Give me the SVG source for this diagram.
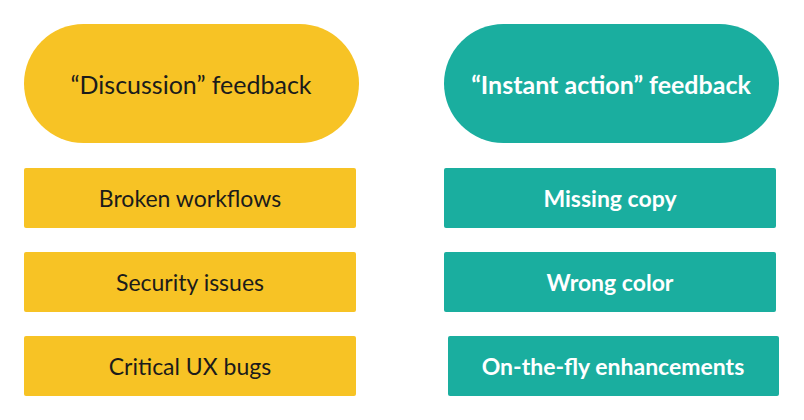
<svg xmlns="http://www.w3.org/2000/svg" width="804" height="420" viewBox="0 0 804 420">
<style>
.y{fill:#F7C325}.t{fill:#1AAE9F}
text{font-family:Lato,"Open Sans",sans-serif;text-anchor:middle;dominant-baseline:central}
.dk{fill:#1b1b1b}.wh{fill:#fff}
.p{font-size:25px}.b{font-size:23px}
.wh{font-weight:bold}
</style>
<rect width="804" height="420" fill="#fff"/>
<g id="discussion"><rect class="y" x="24" y="24" width="335" height="119" rx="59.5"/><text class="dk p" x="191" y="84">“Discussion” feedback</text></g>
<g id="instant"><rect class="t" x="444" y="24" width="335" height="119" rx="59.5"/><text class="wh p" x="611" y="84">“Instant action” feedback</text></g>
<g id="broken"><rect class="y" x="24" y="168" width="332" height="60" rx="2"/><text class="dk b" x="190" y="198">Broken workflows</text></g>
<g id="security"><rect class="y" x="24" y="252" width="332" height="60" rx="2"/><text class="dk b" x="190" y="282">Security issues</text></g>
<g id="critical"><rect class="y" x="24" y="336" width="332" height="60" rx="2"/><text class="dk b" x="190" y="366">Critical UX bugs</text></g>
<g id="missing"><rect class="t" x="444" y="168" width="332" height="60" rx="2"/><text class="wh b" x="610" y="198">Missing copy</text></g>
<g id="wrong"><rect class="t" x="444" y="252" width="332" height="60" rx="2"/><text class="wh b" x="610" y="282">Wrong color</text></g>
<g id="onthefly"><rect class="t" x="448" y="336" width="331" height="60" rx="2"/><text class="wh b" x="613" y="366">On-the-fly enhancements</text></g>
<g id="connectors"/>
</svg>
